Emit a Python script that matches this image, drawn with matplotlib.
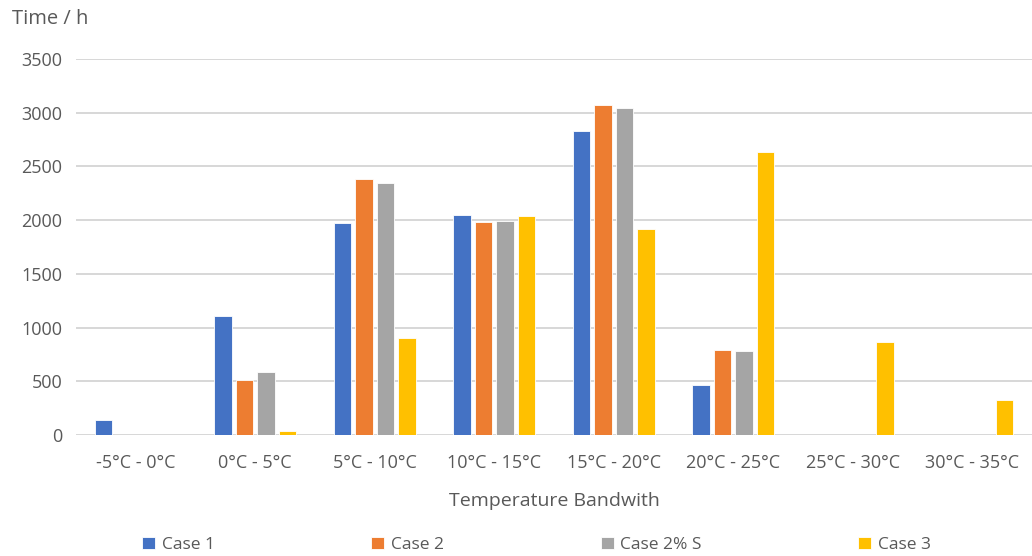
import numpy as np
import matplotlib
matplotlib.use("Agg")
from matplotlib import pyplot as plt

# data
bands = ["-5°C - 0°C", "0°C - 5°C", "5°C - 10°C", "10°C - 15°C",
         "15°C - 20°C", "20°C - 25°C", "25°C - 30°C", "30°C - 35°C"]
case_1 = [140, 1110, 1970, 2045, 2825, 470, 0, 0]
case_2 = [0, 510, 2380, 1980, 3070, 790, 0, 0]
case_2s = [0, 590, 2350, 1995, 3040, 785, 0, 0]
case_3 = [0, 40, 900, 2035, 1920, 2630, 865, 330]

series = [("Case 1", case_1, "#4472C4"),
          ("Case 2", case_2, "#ED7D31"),
          ("Case 2% S", case_2s, "#A5A5A5"),
          ("Case 3", case_3, "#FFC000")]

plt.rcParams['font.family'] = ['Open Sans', 'DejaVu Sans']
txt = "#595959"

fig = plt.figure(figsize=(10.32, 5.56), dpi=100)
ax = fig.add_axes([0.0736, 0.2176, 0.9264, 0.6764])

x = np.arange(len(bands))
step = 0.18
width = 0.148
for i, (name, vals, col) in enumerate(series):
    ax.bar(x + (i - 1.5) * step, vals, width, color=col, edgecolor="white",
           linewidth=0.6, label=name, zorder=3)

ax.set_xlim(-0.5, len(bands) - 0.5)
ax.set_ylim(0, 3500)
ax.set_yticks(np.arange(0, 3501, 500))
ax.set_xticks(x)
ax.set_xticklabels(bands)
ax.grid(axis="y", color="#d4d4d4", linewidth=1.3, zorder=0)
for s in ax.spines.values():
    s.set_visible(False)
ax.tick_params(length=0, labelsize=13, colors=txt)
ax.tick_params(axis="x", pad=14)
ax.tick_params(axis="y", pad=10)

ax.set_xlabel("Temperature Bandwith", fontsize=14, color=txt, labelpad=14)
fig.text(0.012, 0.966, "Time / h", fontsize=14.5, color=txt, va="center")

fig.legend(loc="center", bbox_to_anchor=(0.52, 0.02), ncol=4, frameon=False,
           fontsize=12.5, labelcolor=txt, handlelength=0.75, handleheight=0.75,
           handletextpad=0.4, columnspacing=9.0)

plt.savefig("out.png", dpi=100)
